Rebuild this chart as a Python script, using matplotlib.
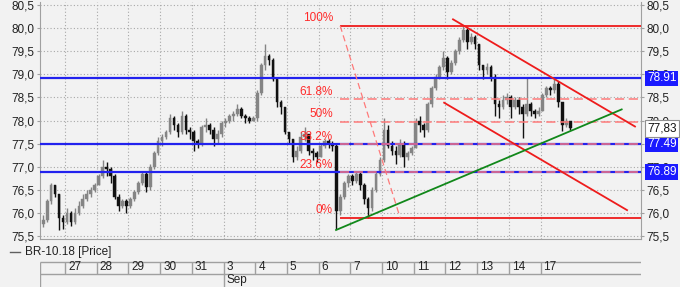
import matplotlib
matplotlib.use('Agg')
import numpy as np
import matplotlib.pyplot as plt
from matplotlib.ticker import FuncFormatter
from matplotlib.lines import Line2D
import matplotlib.transforms as mtransforms

plt.rcParams['font.family'] = ['Liberation Sans', 'DejaVu Sans']

# ---- data ----
day_labels = ['27', '28', '29', '30', '31', '3', '4', '5', '6', '7', '10', '11', '12', '13', '14', '17']
month_label = 'Sep'
month_start = 5          # index of first September day
per_day = 8              # candles per trading day
first_day_candles = 6    # partial day (26 Aug) at the left edge
first_open = 75.75

closes = [
    75.85, 76.25, 76.6, 76.4, 75.9, 75.8,                   # 26
    76.0, 75.8, 76.0, 76.15, 76.3, 76.4, 76.5, 76.6,        # 27
    76.8, 77.0, 76.95, 76.8, 76.35, 76.15, 76.25, 76.15,    # 28
    76.3, 76.45, 76.65, 76.85, 76.55, 77.0, 77.3, 77.55,    # 29
    77.65, 77.75, 78.05, 77.9, 77.75, 78.1, 77.8, 77.75,    # 30
    77.55, 77.5, 77.85, 77.9, 77.8, 77.6, 77.7, 77.95,      # 31
    78.0, 78.1, 78.15, 78.25, 78.1, 78.05, 77.98, 78.05,    # 3
    78.6, 79.2, 79.4, 79.3, 78.9, 78.4, 78.3, 77.75,        # 4
    77.6, 77.2, 77.35, 77.65, 77.7, 77.35, 77.3, 77.2,      # 5
    77.45, 77.55, 77.5, 77.45, 76.05, 76.35, 76.65, 76.8,   # 6
    76.7, 76.85, 76.6, 76.3, 76.1, 76.5, 76.85, 77.15,      # 7
    77.8, 77.45, 77.35, 77.25, 77.5, 77.2, 77.3, 77.4,      # 10
    78.0, 77.9, 77.8, 78.35, 78.7, 78.95, 79.15, 79.35,     # 11
    79.05, 79.25, 79.5, 79.75, 79.95, 79.7, 79.8, 79.65,    # 12
    79.2, 79.1, 79.15, 78.95, 78.35, 78.3, 78.45, 78.5,     # 13
    78.3, 78.45, 78.3, 78.15, 78.35, 78.2, 78.15, 78.2,     # 14
    78.55, 78.7, 78.65, 78.8, 78.4, 77.9, 78.0, 77.83,      # 17
]
highs = [
    75.95, 76.3, 76.65, 76.6, 76.4, 75.95,
    76.1, 76.05, 76.1, 76.25, 76.4, 76.5, 76.55, 76.65,
    76.85, 77.15, 77.1, 77.0, 76.85, 76.4, 76.3, 76.3,
    76.35, 76.5, 76.7, 76.9, 76.9, 77.05, 77.35, 77.65,
    77.7, 77.8, 78.15, 78.1, 77.95, 78.2, 78.15, 77.85,
    77.8, 77.6, 77.9, 78.05, 77.95, 77.85, 77.8, 78.0,
    78.05, 78.15, 78.2, 78.35, 78.3, 78.15, 78.1, 78.1,
    78.65, 79.25, 79.65, 79.45, 79.35, 78.9, 78.45, 78.3,
    77.75, 77.6, 77.45, 77.75, 77.85, 77.7, 77.4, 77.35,
    77.5, 77.6, 77.6, 77.55, 77.5, 76.4, 76.7, 76.85,
    76.85, 76.9, 76.9, 76.65, 76.35, 76.55, 76.9, 77.2,
    78.05, 77.9, 77.55, 77.45, 77.6, 77.55, 77.35, 77.45,
    78.05, 78.1, 77.95, 78.4, 78.75, 79.0, 79.2, 79.5,
    79.4, 79.3, 79.55, 79.8, 80.05, 80.0, 79.9, 79.85,
    79.65, 79.2, 79.25, 79.2, 79.0, 78.45, 78.55, 78.6,
    78.55, 78.5, 78.5, 78.35, 78.92, 78.4, 78.25, 78.3,
    78.6, 78.75, 78.75, 78.9, 78.85, 78.4, 78.05, 78.0,
]
lows = [
    75.7, 75.8, 76.2, 76.35, 75.62, 75.65,
    75.75, 75.72, 75.75, 75.95, 76.1, 76.25, 76.35, 76.45,
    76.6, 76.75, 76.8, 76.65, 76.3, 76.05, 76.1, 76.0,
    76.1, 76.25, 76.4, 76.6, 76.45, 76.5, 76.95, 77.25,
    77.45, 77.6, 77.7, 77.8, 77.65, 77.7, 77.7, 77.6,
    77.35, 77.4, 77.45, 77.75, 77.7, 77.45, 77.5, 77.65,
    77.85, 77.95, 78.0, 78.1, 78.05, 77.95, 77.95, 77.98,
    78.0, 78.55, 79.1, 79.2, 78.85, 78.3, 78.15, 77.7,
    77.5, 77.1, 77.15, 77.3, 77.55, 77.25, 77.15, 77.1,
    77.25, 77.4, 77.4, 77.35, 75.65, 75.95, 76.3, 76.55,
    76.6, 76.65, 76.5, 76.2, 75.9, 76.05, 76.45, 76.8,
    77.1, 77.4, 77.25, 77.05, 77.2, 77.0, 77.15, 77.25,
    77.4, 77.75, 77.65, 77.75, 78.3, 78.65, 78.9, 79.1,
    78.9, 79.0, 79.2, 79.45, 79.7, 79.55, 79.65, 79.55,
    79.1, 78.9, 79.0, 78.85, 78.1, 78.05, 78.25, 78.35,
    78.05, 78.25, 78.15, 77.62, 78.1, 78.1, 78.05, 78.1,
    78.2, 78.5, 78.55, 78.6, 78.3, 77.78, 77.85, 77.8,
]

# horizontal support/resistance levels (blue)
blue_levels = [78.91, 77.49, 76.89]
last_price = 77.83

# fibonacci retracement
fib_low, fib_high = 75.90, 80.05
fib_ratios = [0.0, 0.236, 0.382, 0.5, 0.618, 1.0]
fib_labels = ['0%', '23.6%', '38.2%', '50%', '61.8%', '100%']
fib_start = 8.68         # day position where the fib drawing starts
fib_diag = [(8.68, 80.05), (10.57, 75.90)]

# trend lines (day position, price)
channel_upper = [(12.24, 80.19), (17.98, 77.87)]
channel_lower = [(11.96, 78.385), (17.73, 76.06)]
support_line = [(8.55, 75.63), (17.56, 78.24)]

# ---- layout ----
W, H = 680, 287
xmin, xmax = -0.789, 18.17
fig = plt.figure(figsize=(W / 100, H / 100), dpi=100, facecolor='#f2f2f2')
ax = fig.add_axes([40 / W, 48 / H, 601 / W, 237 / H], facecolor='#f2f2f2')
ax.set_xlim(xmin, xmax)
ax.set_ylim(75.435, 80.565)

# candle positions
xs = [-first_day_candles / per_day + (i + 0.5) / per_day for i in range(first_day_candles)]
for d in range(len(day_labels)):
    xs += [d + (i + 0.5) / per_day for i in range(per_day)]
xs = np.array(xs)
c = np.array(closes)
o = np.concatenate([[first_open], c[:-1]])
hi = np.maximum(np.array(highs), np.maximum(o, c))
lo = np.minimum(np.array(lows), np.minimum(o, c))
up = c >= o
cols = np.where(up, '#858585', '#111111')

ax.vlines(xs, lo, hi, colors=cols, lw=1.0, zorder=3)
body = np.where(np.abs(c - o) < 0.02, 0.02, c - o)
ax.bar(xs, body, bottom=o, width=0.085, color=cols, edgecolor=cols, lw=0.3, zorder=4)

# grid
ax.set_yticks(np.arange(75.5, 80.51, 0.5))
ax.set_xticks(range(len(day_labels)))
ax.grid(color='#a8a8a8', linestyle=(0, (1, 2)), lw=0.8, zorder=0)
ax.yaxis.set_major_formatter(FuncFormatter(lambda v, p: ('%.1f' % v).replace('.', ',')))
ax.tick_params(axis='y', left=True, right=True, labelleft=True, labelright=True,
               length=2, pad=2, labelsize=8.5, colors='#a0a0a0', labelcolor='#222222')
ax.tick_params(axis='x', length=0, labelbottom=False)
for s in ['left', 'right', 'bottom']:
    ax.spines[s].set_color('#a0a0a0')
ax.spines['top'].set_visible(False)

# blue levels
for v in blue_levels:
    ax.axhline(v, color='#2222ee', lw=1.6, zorder=5)

# fibonacci
fib_levels = [fib_low + r * (fib_high - fib_low) for r in fib_ratios]
for r, lv, lab in zip(fib_ratios, fib_levels, fib_labels):
    if r in (0.0, 1.0):
        ax.hlines(lv, fib_start, xmax, color='#ee1c1c', lw=1.3, zorder=5)
    else:
        ax.hlines(lv, fib_start, xmax, color='#ff7a7a', lw=1.1, linestyles=(0, (6, 3)), zorder=5)
    ax.text(8.45, lv + 0.03, lab, color='#ff2a2a', fontsize=8.5, ha='right', va='bottom', zorder=6)
ax.plot(*zip(*fib_diag), color='#ff7a7a', lw=0.9, ls=(0, (5, 3)), zorder=5)

# trend lines
ax.plot(*zip(*channel_upper), color='#ee1c1c', lw=1.3, zorder=6)
ax.plot(*zip(*channel_lower), color='#ee1c1c', lw=1.3, zorder=6)
ax.plot(*zip(*support_line), color='#11881a', lw=1.3, zorder=6)

# right side price boxes
trans = mtransforms.blended_transform_factory(ax.transAxes, ax.transData)
for v in blue_levels:
    ax.text(1 + 6 / 601, v, '%.2f' % v, transform=trans, color='white', fontsize=8.5,
            ha='left', va='center', clip_on=False, zorder=10,
            bbox=dict(boxstyle='square,pad=0.15', fc='#1a1aff', ec='none'))
ax.text(1 + 6 / 601, last_price, ('%.2f' % last_price).replace('.', ','), transform=trans,
        color='#111111', fontsize=8.5, ha='left', va='center', clip_on=False, zorder=10,
        bbox=dict(boxstyle='square,pad=0.2', fc='white', ec='#909090', lw=0.8))

# legend
fig.add_artist(Line2D([10 / W, 20 / W], [1 - 252 / H] * 2, color='#606060', lw=1))
fig.text(25 / W, 1 - 252 / H, 'BR-10.18 [Price]', fontsize=8.5, va='center', color='#222222')

# date table
tax = fig.add_axes([40 / W, 0, 601 / W, 26 / H])
tax.set_xlim(xmin, xmax)
tax.set_ylim(0, 26)
tax.axis('off')
lc = '#a0a0a0'
tax.hlines([25.5, 13.5], xmin, xmax, color=lc, lw=1)
tax.vlines([xmin + 0.01], 0, 25.5, color=lc, lw=1)
tax.vlines(range(len(day_labels)), 13.5, 25.5, color=lc, lw=1)
tax.vlines([month_start], 0, 13.5, color=lc, lw=1)
for i, lab in enumerate(day_labels):
    tax.text(i + 3 / 31.7, 19.5, lab, fontsize=8.5, va='center', ha='left', color='#222222')
tax.text(month_start + 3 / 31.7, 6.8, month_label, fontsize=8.5, va='center', ha='left', color='#222222')

fig.savefig('out.png', dpi=100, facecolor=fig.get_facecolor())
